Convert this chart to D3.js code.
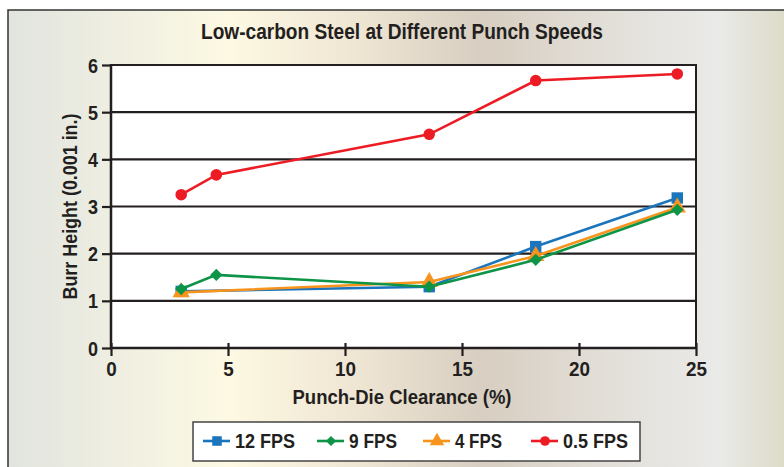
<!DOCTYPE html>
<html><head><meta charset="utf-8">
<script src="https://cdn.jsdelivr.net/npm/d3@7"></script>
<style>
html,body{margin:0;padding:0;background:#fff;}
svg text{font-family:"Liberation Sans",Arial,sans-serif;font-weight:bold;fill:#231f20;}
</style></head>
<body>
<svg id="chart" width="784" height="467"></svg>
<script>
const title = "Low-carbon Steel at Different Punch Speeds";
const xTitle = "Punch-Die Clearance (%)";
const yTitle = "Burr Height (0.001 in.)";
const xTicks = [0,5,10,15,20,25];
const yTicks = [0,1,2,3,4,5,6];
const seriesNames = ["12 FPS","9 FPS","4 FPS","0.5 FPS"];
const x12 = [3,13.6,18.15,24.2];
const y12 = [1.2,1.3,2.15,3.18];
const x9 = [3,4.5,13.6,18.15,24.2];
const y9 = [1.25,1.55,1.3,1.87,2.93];
const x4 = [3,13.6,18.15,24.2];
const y4 = [1.18,1.4,1.95,2.98];
const x05 = [3,4.5,13.6,18.15,24.2];
const y05 = [3.25,3.67,4.53,5.67,5.81];

const colors = ["#1b75bc","#0e9447","#f7941d","#ed1c24"];
const symbols = [d3.symbolSquare, d3.symbolSquare, d3.symbolTriangle, d3.symbolCircle];
const symRot = [0,45,0,0];
const symSizes = [130, 75, 130, 105];

const svg = d3.select("#chart");
const defs = svg.append("defs");
const grad = defs.append("linearGradient").attr("id","bg").attr("x1","0").attr("x2","1").attr("y1","0").attr("y2","0");
[[0,"#e1e4df"],[0.28,"#fdf9e3"],[0.45,"#eee4d2"],[0.6,"#d8cec1"],[0.77,"#e3e0da"],[0.9,"#eaeae8"],[1,"#dbd8c2"]]
  .forEach(([o,c])=>grad.append("stop").attr("offset",o).attr("stop-color",c));

svg.append("rect").attr("x",8).attr("y",10).attr("width",790).attr("height",470)
  .attr("fill","url(#bg)").attr("stroke","#333").attr("stroke-width",1.5);

const x = d3.scaleLinear().domain([0,25]).range([111,696]);
const y = d3.scaleLinear().domain([0,6]).range([348,65]);

svg.append("rect").attr("x",x(0)).attr("y",y(6)).attr("width",x(25)-x(0)).attr("height",y(0)-y(6)).attr("fill","#fff");

// gridlines
svg.append("g").selectAll("line").data(yTicks.filter(d=>d>0)).join("line")
  .attr("x1",x(0)).attr("x2",x(25)).attr("y1",d=>y(d)).attr("y2",d=>y(d))
  .attr("stroke","#231f20").attr("stroke-width",2.2);
// right border
svg.append("line").attr("x1",x(25)).attr("x2",x(25)).attr("y1",y(6)-1).attr("y2",y(0))
  .attr("stroke","#231f20").attr("stroke-width",2);

// axes
const yAxis = svg.append("g").attr("transform",`translate(${x(0)},0)`)
  .call(d3.axisLeft(y).tickValues(yTicks).tickSize(9).tickPadding(3).tickFormat(d3.format("d")));
yAxis.select(".domain").attr("stroke","#231f20").attr("stroke-width",2.5).attr("d",`M0,${y(6)-1}V${y(0)}`);
yAxis.selectAll(".tick line").attr("stroke","#231f20").attr("stroke-width",2.2);
yAxis.selectAll(".tick text").attr("font-size",20).attr("dy","0.35em")
  .attr("transform","scale(0.9,1)").attr("x",-13/0.9);

const xAxis = svg.append("g").attr("transform",`translate(0,${y(0)})`)
  .call(d3.axisBottom(x).tickValues(xTicks).tickSize(8).tickPadding(6).tickFormat(d3.format("d")));
xAxis.select(".domain").attr("stroke","#231f20").attr("stroke-width",2.5).attr("d",`M${x(0)-1},0H${x(25)+1}`);
xAxis.selectAll(".tick line").attr("stroke","#231f20").attr("stroke-width",2.2).attr("y1",-5);
xAxis.selectAll(".tick text").attr("font-size",20).attr("textLength",d=>String(d).length*10.5).attr("lengthAdjust","spacingAndGlyphs");

// titles
function fit(sel,len){ return sel.attr("textLength",len).attr("lengthAdjust","spacingAndGlyphs"); }
fit(svg.append("text").attr("x",402).attr("y",39).attr("text-anchor","middle").attr("font-size",22.5).text(title),402);
fit(svg.append("text").attr("x",402).attr("y",404).attr("text-anchor","middle").attr("font-size",20.5).text(xTitle),219);
fit(svg.append("text").attr("transform",`translate(77,${y(3)}) rotate(-90)`).attr("text-anchor","middle").attr("font-size",20.5).text(yTitle),186);

// series
const allSeries = [[x12,y12],[x9,y9],[x4,y4],[x05,y05]];
const drawOrder = [0,2,1,3];
const line = d3.line().x(d=>x(d[0])).y(d=>y(d[1]));
drawOrder.forEach(i=>{
  const pts = allSeries[i][0].map((v,k)=>[v,allSeries[i][1][k]]);
  const g = svg.append("g");
  g.append("path").datum(pts).attr("d",line).attr("fill","none").attr("stroke",colors[i]).attr("stroke-width",2.6);
  g.selectAll("path.m").data(pts).join("path").attr("class","m")
    .attr("d",d3.symbol().type(symbols[i]).size(symSizes[i]))
    .attr("transform",d=>`translate(${x(d[0])},${y(d[1])}) rotate(${symRot[i]})`).attr("fill",colors[i]);
});

// legend
const lg = svg.append("g");
lg.append("rect").attr("x",193).attr("y",422).attr("width",447).attr("height",39)
  .attr("fill","#fff").attr("stroke","#444").attr("stroke-width",1.5);
const lx = [203,317,423,531];
const lw = [60,48,47,65];
seriesNames.forEach((n,i)=>{
  const g = lg.append("g").attr("transform",`translate(${lx[i]},441)`);
  g.append("line").attr("x1",0).attr("x2",27).attr("stroke",colors[i]).attr("stroke-width",2.6);
  g.append("path").attr("d",d3.symbol().type(symbols[i]).size(symSizes[i]*0.7)).attr("transform",`translate(14,0) rotate(${symRot[i]})`).attr("fill",colors[i]);
  fit(g.append("text").attr("x",32).attr("y",0).attr("dy","0.36em").attr("font-size",20.5).text(n),lw[i]);
});
</script>
</body></html>
